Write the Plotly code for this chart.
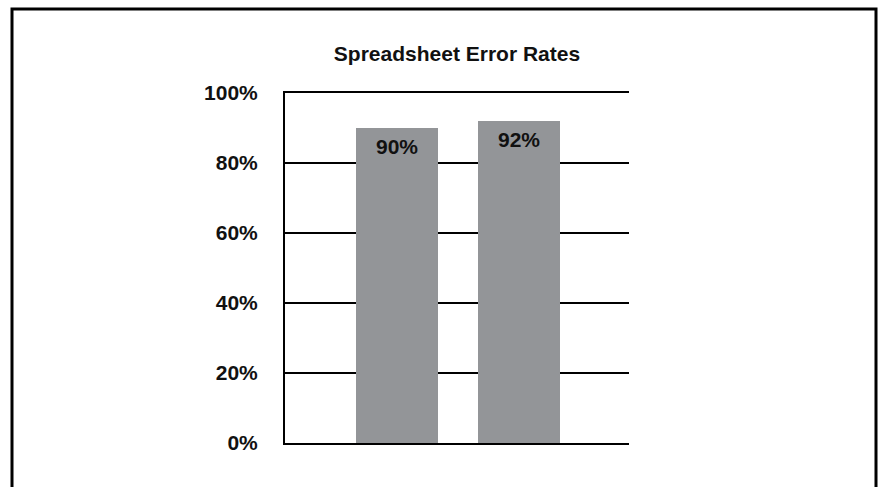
import plotly.graph_objects as go

categories = ["A", "B"]
values = [90, 92]
labels = ["90%", "92%"]
tick_vals = [0, 20, 40, 60, 80, 100]
tick_text = ["0%", "20%", "40%", "60%", "80%", "100%"]

FONT = "Liberation Sans, Arial, Helvetica, sans-serif"
W, H = 879, 487
L, R, T, B = 285, 250, 93, 44
pw, ph = W - L - R, H - T - B

fig = go.Figure()
fig.add_trace(go.Bar(
    x=[0, 1], y=values, width=0.672,
    marker=dict(color="#939598", line=dict(width=0)),
    hoverinfo="skip",
))

for i, (v, t) in enumerate(zip(values, labels)):
    fig.add_annotation(x=i, y=v, text="<b>%s</b>" % t, showarrow=False,
                       yanchor="middle", yshift=-18,
                       font=dict(family=FONT, size=21, color="#111111"))

def px_x(p):
    return (p - L) / pw

def px_y(p):
    return (H - B - p) / ph

fig.add_shape(type="rect", xref="paper", yref="paper",
              x0=px_x(12), x1=px_x(876), y0=px_y(500), y1=px_y(9),
              line=dict(color="black", width=3), fillcolor="rgba(0,0,0,0)",
              layer="above")

fig.update_layout(
    width=W, height=H,
    margin=dict(l=L, r=R, t=T, b=B),
    paper_bgcolor="white", plot_bgcolor="white",
    showlegend=False,
    title=dict(text="<b>Spreadsheet Error Rates</b>", x=(L + pw / 2) / W, xanchor="center",
               xref="container", yref="container", y=1 - 54 / H, yanchor="middle",
               font=dict(family=FONT, size=21, color="#111111")),
    xaxis=dict(range=[-0.918, 1.902], showticklabels=False, showgrid=False,
               zeroline=False, showline=True, mirror=True, linecolor="black",
               linewidth=2, fixedrange=True),
    yaxis=dict(range=[0, 100], tickvals=tick_vals,
               ticktext=["<b>%s</b>" % s for s in tick_text],
               tickfont=dict(family=FONT, size=21, color="#111111"),
               showgrid=True, gridcolor="black", gridwidth=2,
               zeroline=False, showline=True, linecolor="black", linewidth=2,
               ticks="", ticklabelstandoff=21, fixedrange=True),
    bargap=0,
)
fig.write_html("out.html", config={"displayModeBar": False},
               post_script="document.body.style.margin='0';document.body.style.padding='0';")
